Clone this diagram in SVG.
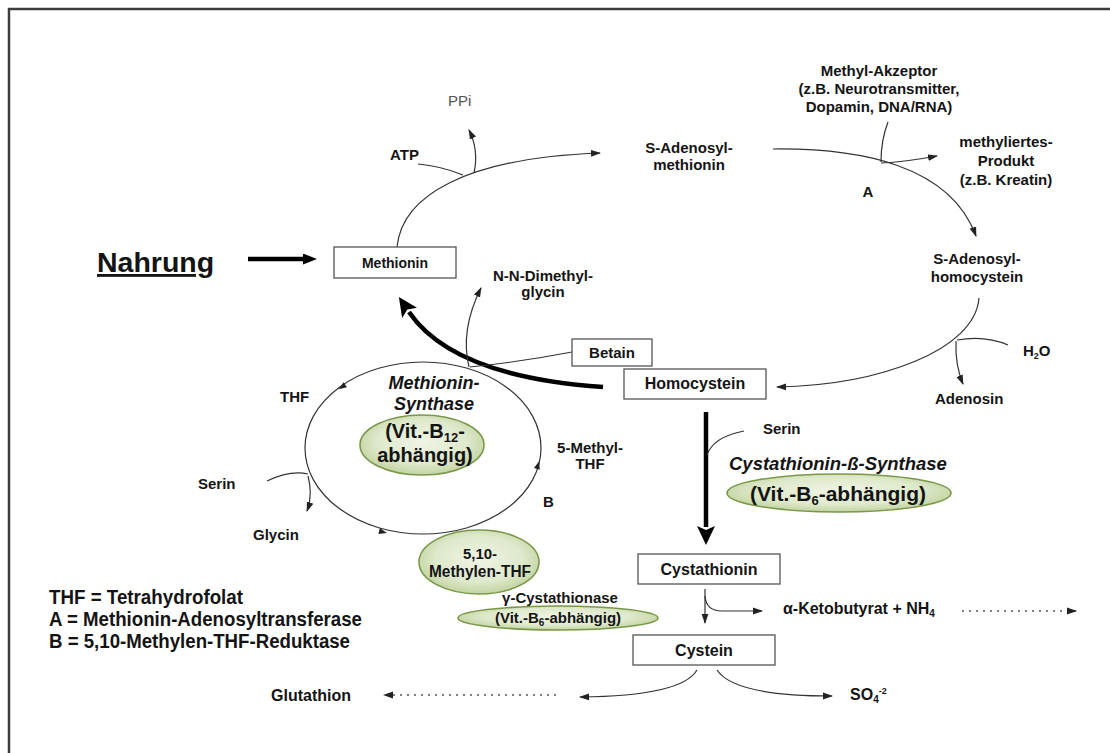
<svg xmlns="http://www.w3.org/2000/svg" width="1110" height="753" viewBox="0 0 1110 753">
<defs>
<style>
.t{font-family:"Liberation Sans",Arial,sans-serif;font-weight:bold;font-size:15px;fill:#141414}
.c{text-anchor:middle}
.it{font-style:italic;font-size:18px}
.ln{fill:none;stroke:#333;stroke-width:1.2}
.thick{fill:none;stroke:#000;stroke-width:4.5}
.dot{fill:none;stroke:#555;stroke-width:1.3;stroke-dasharray:2 5}
.box{fill:#fff;stroke:#555;stroke-width:1.3}
.gr{fill:url(#gg);stroke:#7b984a;stroke-width:1.6}
</style>
<radialGradient id="gg" cx="50%" cy="45%" r="55%">
<stop offset="0" stop-color="#eff4e5"/>
<stop offset="0.65" stop-color="#dfe9cc"/>
<stop offset="1" stop-color="#c3d4a2"/>
</radialGradient>
<marker id="a" markerUnits="userSpaceOnUse" markerWidth="10" markerHeight="8" viewBox="0 0 10 8" refX="9" refY="4" orient="auto"><path d="M0,0.6 L10,4 L0,7.4 z" fill="#222"/></marker>
<marker id="aT" markerUnits="userSpaceOnUse" markerWidth="19" markerHeight="18" viewBox="0 0 19 18" refX="1" refY="9" orient="auto"><path d="M0,0 L19,9 L0,18 L4,9 z" fill="#000"/></marker>
<marker id="aN" markerUnits="userSpaceOnUse" markerWidth="14" markerHeight="11" viewBox="0 0 14 11" refX="1" refY="5.5" orient="auto"><path d="M0,0 L14,5.5 L0,11 z" fill="#000"/></marker>
<path id="ah" d="M-4,-3 L4,0 L-4,3 z" fill="#222"/>
</defs>
<rect x="0" y="0" width="1110" height="753" fill="#fff"/>
<rect x="9" y="9" width="1300" height="900" fill="none" stroke="#3d3d3d" stroke-width="2.5"/>

<g id="connectors">
<path class="thick" d="M248,259 H304" stroke-width="4" marker-end="url(#aN)"/>
<path class="ln" d="M397,247 C402,196 465,158 600,153" marker-end="url(#a)"/>
<path class="ln" d="M418,164 Q441,166 463,175"/>
<path class="ln" d="M474,173 Q479,150 469,130" marker-end="url(#a)"/>
<path class="ln" d="M773,149 C860,148 950,165 976,236" marker-end="url(#a)"/>
<path class="ln" d="M888,122 Q881,140 881,162"/>
<path class="ln" d="M881,163 Q905,162 937,156" marker-end="url(#a)"/>
<path class="ln" d="M979,298 C975,350 880,385 777,387" marker-end="url(#a)"/>
<path class="ln" d="M957,340 Q985,335 1008,345"/>
<path class="ln" d="M956,341 Q955,365 963,384" marker-end="url(#a)"/>
<ellipse class="ln" cx="423" cy="448" rx="118" ry="86"/>
<use href="#ah" transform="translate(342,387) rotate(145)"/>
<use href="#ah" transform="translate(383,532) rotate(14)"/>
<use href="#ah" transform="translate(538,465) rotate(-74)"/>
<path class="thick" d="M603,387 C530,382 445,365 409,312" marker-end="url(#aT)"/>
<path class="ln" d="M572,352 Q520,362 470,367"/>
<path class="ln" d="M469,367 Q460,330 481,288" marker-end="url(#a)"/>
<path class="thick" d="M706,412 V527" stroke-width="4" marker-end="url(#aT)"/>
<path class="ln" d="M744,431 Q713,437 707,455"/>
<path class="ln" d="M267,481 Q290,470 308,474"/>
<path class="ln" d="M308,476 Q313,495 307,511" marker-end="url(#a)"/>
<path class="ln" d="M705,589 V623" marker-end="url(#a)"/>
<path class="ln" d="M705,596 Q706,611 722,611 H762" marker-end="url(#a)"/>
<path class="dot" d="M962,611 H1076" marker-end="url(#a)"/>
<path class="ln" d="M697,670 Q682,696 580,697" marker-end="url(#a)"/>
<path class="ln" d="M717,670 Q734,696 832,696" marker-end="url(#a)"/>
<path class="dot" d="M556,695 H384" marker-end="url(#a)"/>
</g>

<g id="nahrung"><text class="t" x="97" y="272" style="font-size:28.5px" text-decoration="underline">Nahrung</text></g>
<g id="methionin"><rect class="box" x="334" y="247" width="122" height="31"/><text class="t c" x="395" y="268" style="font-size:14px">Methionin</text></g>
<g id="atp"><text class="t" x="390" y="160">ATP</text></g>
<g id="ppi"><text class="t" x="448" y="106" style="font-weight:normal;fill:#555">PPi</text></g>
<g id="sam"><text class="t c"><tspan x="689" y="153">S-Adenosyl-</tspan><tspan x="689" y="170">methionin</tspan></text></g>
<g id="akzeptor"><text class="t c"><tspan x="879" y="76">Methyl-Akzeptor</tspan><tspan x="879" y="94">(z.B. Neurotransmitter,</tspan><tspan x="879" y="112">Dopamin, DNA/RNA)</tspan></text></g>
<g id="produkt"><text class="t c"><tspan x="1006" y="147">methyliertes-</tspan><tspan x="1006" y="166">Produkt</tspan><tspan x="1006" y="185">(z.B. Kreatin)</tspan></text></g>
<g id="enzymA"><text class="t c" x="868" y="197">A</text></g>
<g id="sah"><text class="t c"><tspan x="977" y="264">S-Adenosyl-</tspan><tspan x="977" y="282">homocystein</tspan></text></g>
<g id="h2o"><text class="t" x="1023" y="356">H<tspan style="font-size:9px" dy="3">2</tspan><tspan dy="-3">O</tspan></text></g>
<g id="adenosin"><text class="t" x="935" y="404">Adenosin</text></g>
<g id="dimethylglycin"><text class="t c"><tspan x="543" y="281">N-N-Dimethyl-</tspan><tspan x="543" y="297">glycin</tspan></text></g>
<g id="betain"><rect class="box" x="572" y="339" width="80" height="27"/><text class="t c" x="612" y="358">Betain</text></g>
<g id="homocystein"><rect class="box" x="624" y="369" width="142" height="30"/><text class="t c" x="695" y="389" style="font-size:16px">Homocystein</text></g>
<g id="thf"><text class="t" x="280" y="402">THF</text></g>
<g id="methioninsynthase"><text class="t c it"><tspan x="434" y="389">Methionin-</tspan><tspan x="434" y="410">Synthase</tspan></text>
<ellipse class="gr" cx="422" cy="445" rx="62" ry="30"/>
<text class="t c" style="font-size:20px"><tspan x="425" y="438">(Vit.-B<tspan style="font-size:13px" dy="4">12</tspan><tspan dy="-4">-</tspan></tspan><tspan x="425" y="462">abhängig)</tspan></text></g>
<g id="methylthf"><text class="t c"><tspan x="590" y="453">5-Methyl-</tspan><tspan x="590" y="469">THF</tspan></text></g>
<g id="serin1"><text class="t" x="198" y="489">Serin</text></g>
<g id="glycin"><text class="t" x="253" y="540">Glycin</text></g>
<g id="enzymB"><text class="t" x="543" y="507">B</text></g>
<g id="methylenthf"><ellipse class="gr" cx="479" cy="562" rx="60" ry="32"/><text class="t c"><tspan x="480" y="559">5,10-</tspan><tspan x="480" y="577" textLength="102" lengthAdjust="spacingAndGlyphs" style="font-size:16px">Methylen-THF</tspan></text></g>
<g id="serin2"><text class="t" x="763" y="434">Serin</text></g>
<g id="cbs"><text class="t it" x="729" y="470" style="font-size:18.5px">Cystathionin-ß-Synthase</text>
<ellipse class="gr" cx="839" cy="493" rx="112" ry="19"/>
<text class="t c" x="838" y="501" style="font-size:21px">(Vit.-B<tspan style="font-size:13px" dy="4">6</tspan><tspan dy="-4">-abhängig)</tspan></text></g>
<g id="cystathionin"><rect class="box" x="638" y="554" width="142" height="30"/><text class="t c" x="709" y="575" style="font-size:16px">Cystathionin</text></g>
<g id="cgl"><text class="t c" x="560" y="603">γ-Cystathionase</text>
<ellipse class="gr" cx="558" cy="618" rx="100" ry="12"/>
<text class="t c" x="558" y="623" style="font-size:15px">(Vit.-B<tspan style="font-size:10px" dy="3">6</tspan><tspan dy="-3">-abhängig)</tspan></text></g>
<g id="ketobutyrat"><text class="t" x="783" y="614" style="font-size:16px">α-Ketobutyrat + NH<tspan style="font-size:10px" dy="3">4</tspan></text></g>
<g id="cystein"><rect class="box" x="633" y="635" width="142" height="30"/><text class="t c" x="704" y="656" style="font-size:16px">Cystein</text></g>
<g id="glutathion"><text class="t" x="271" y="701" style="font-size:16px">Glutathion</text></g>
<g id="so4"><text class="t" x="850" y="700" style="font-size:16px">SO<tspan style="font-size:10px" dy="3">4</tspan><tspan style="font-size:9px" dy="-9">-2</tspan></text></g>
<g id="legend">
<text class="t" x="49" y="604" style="font-size:20px" textLength="194" lengthAdjust="spacingAndGlyphs">THF = Tetrahydrofolat</text>
<text class="t" x="49" y="626" style="font-size:20px" textLength="313" lengthAdjust="spacingAndGlyphs">A = Methionin-Adenosyltransferase</text>
<text class="t" x="49" y="648" style="font-size:20px" textLength="301" lengthAdjust="spacingAndGlyphs">B = 5,10-Methylen-THF-Reduktase</text>
</g>
</svg>
